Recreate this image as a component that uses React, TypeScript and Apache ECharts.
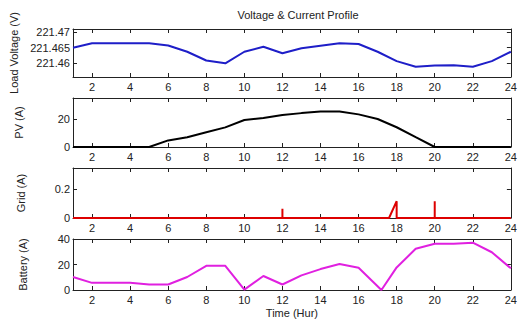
import React, { useEffect, useRef } from "react";
import * as echarts from "echarts";

// Hourly profiles
const hours = [1, 2, 3, 4, 5, 6, 7, 8, 9, 10, 11, 12, 13, 14, 15, 16, 17, 18, 19, 20, 21, 22, 23, 24];
const loadVoltage = [
  221.465, 221.4664, 221.4664, 221.4664, 221.4664, 221.4657, 221.4637, 221.4609, 221.46, 221.4637,
  221.4653, 221.4632, 221.4648, 221.4656, 221.4664, 221.4662, 221.4637, 221.4607, 221.4589, 221.4593,
  221.4594, 221.4589, 221.4607, 221.4637,
];
const pvCurrent = [0, 0, 0, 0, 0, 4.7, 7, 10.6, 14, 19.3, 20.7, 22.8, 24.2, 25.4, 25.4, 23.3, 20, 14.1, 7, 0, 0, 0, 0, 0];

const gridHours = [1, 12, 12, 12, 17.6, 18, 18, 20, 20, 20, 24];
const gridCurrent = [0, 0, 0.064, 0, 0, 0.118, 0, 0, 0.118, 0, 0];

const batteryHours = [1, 2, 3, 4, 5, 6, 7, 8, 9, 10, 11, 12, 13, 14, 15, 16, 17.2, 18, 19, 20, 21, 22, 23, 24];
const batteryCurrent = [10.2, 5.6, 5.6, 5.6, 4.3, 4.3, 10.2, 19, 19, 0.3, 11, 4.3, 11.5, 16.4, 20.4, 17.5, 0, 17.7, 32.3, 36.3, 36.3, 37.1, 29.6, 17];

const xTicks = [2, 4, 6, 8, 10, 12, 14, 16, 18, 20, 22, 24];
const voltageTicks = [221.46, 221.465, 221.47];
const pvTicks = [0, 20];
const gridTicks = [0, 0.2];
const batteryTicks = [0, 20, 40];

const FONT = "Liberation Sans, Arial, sans-serif";
const INK = "#222";

type Panel = {
  top: number;
  height: number;
  min: number;
  max: number;
  ticks: number[];
  name: string;
  nameGap: number;
  color: string;
  data: number[][];
  fmt: (v: number) => string;
};

export default function App() {
  const ref = useRef<HTMLDivElement>(null);

  useEffect(() => {
    if (!ref.current) return;
    const chart = echarts.init(ref.current, undefined, { renderer: "svg" });

    const panels: Panel[] = [
      {
        top: 29, height: 48, min: 221.4556, max: 221.471, ticks: voltageTicks,
        name: "Load Voltage (V)", nameGap: 49, color: "#1e1ec8",
        data: hours.map((h, i) => [h, loadVoltage[i]]),
        fmt: (v) => String(+v.toFixed(3)),
      },
      {
        top: 98, height: 49, min: 0, max: 35, ticks: pvTicks,
        name: "PV (A)", nameGap: 49, color: "#000000",
        data: hours.map((h, i) => [h, pvCurrent[i]]),
        fmt: (v) => String(+v.toFixed(1)),
      },
      {
        top: 168, height: 50, min: 0, max: 0.35, ticks: gridTicks,
        name: "Grid (A)", nameGap: 47, color: "#dd0000",
        data: gridHours.map((h, i) => [h, gridCurrent[i]]),
        fmt: (v) => String(+v.toFixed(2)),
      },
      {
        top: 239, height: 51, min: 0, max: 40, ticks: batteryTicks,
        name: "Battery (A)", nameGap: 45, color: "#e020e0",
        data: batteryHours.map((h, i) => [h, batteryCurrent[i]]),
        fmt: (v) => String(+v.toFixed(1)),
      },
    ];

    const grids: any[] = [];
    const xAxes: any[] = [];
    const yAxes: any[] = [];
    const series: any[] = [];

    panels.forEach((p, i) => {
      grids.push({ left: 73, right: 7, top: p.top, height: p.height, containLabel: false });
      const axisLine = { show: true, onZero: false, lineStyle: { color: INK, width: 1 } };
      const tick = (vals: number[]) => ({
        show: true, inside: true, length: 4, customValues: vals, lineStyle: { color: INK },
      });
      const last = i === panels.length - 1;
      xAxes.push({
        type: "value", gridIndex: i, position: "bottom", min: 1, max: 24,
        axisLine, axisTick: tick(xTicks), splitLine: { show: false },
        axisLabel: {
          customValues: xTicks, color: INK, fontFamily: FONT, fontSize: 11, margin: 4,
          showMaxLabel: true, hideOverlap: false,
        },
        name: last ? "Time (Hur)" : "",
        nameLocation: "middle", nameGap: 17,
        nameTextStyle: { color: INK, fontFamily: FONT, fontSize: 11 },
      });
      xAxes.push({
        type: "value", gridIndex: i, position: "top", min: 1, max: 24,
        axisLine, axisTick: tick(xTicks), splitLine: { show: false },
        axisLabel: { show: false },
      });
      yAxes.push({
        type: "value", gridIndex: i, position: "left", min: p.min, max: p.max,
        axisLine, axisTick: tick(p.ticks), splitLine: { show: false },
        axisLabel: {
          customValues: p.ticks, color: INK, fontFamily: FONT, fontSize: 11, margin: 3,
          formatter: (v: number) => p.fmt(v),
        },
        name: p.name, nameLocation: "middle", nameGap: p.nameGap, nameRotate: 90,
        nameTextStyle: { color: INK, fontFamily: FONT, fontSize: 11 },
      });
      yAxes.push({
        type: "value", gridIndex: i, position: "right", min: p.min, max: p.max,
        axisLine, axisTick: tick(p.ticks), splitLine: { show: false },
        axisLabel: { show: false },
      });
      series.push({
        type: "line", xAxisIndex: 2 * i, yAxisIndex: 2 * i, data: p.data,
        showSymbol: false, symbol: "none", clip: false,
        lineStyle: { color: p.color, width: 2 },
        itemStyle: { color: p.color },
      });
    });

    chart.setOption({
      animation: false,
      backgroundColor: "#ffffff",
      title: {
        text: "Voltage & Current Profile",
        left: 293, top: 4, textAlign: "center",
        textStyle: { color: INK, fontFamily: FONT, fontSize: 11, fontWeight: "normal" },
      },
      grid: grids,
      xAxis: xAxes,
      yAxis: yAxes,
      series,
    });

    return () => chart.dispose();
  }, []);

  return <div ref={ref} style={{ position: "fixed", left: 0, top: 0, width: 520, height: 320 }} />;
}
